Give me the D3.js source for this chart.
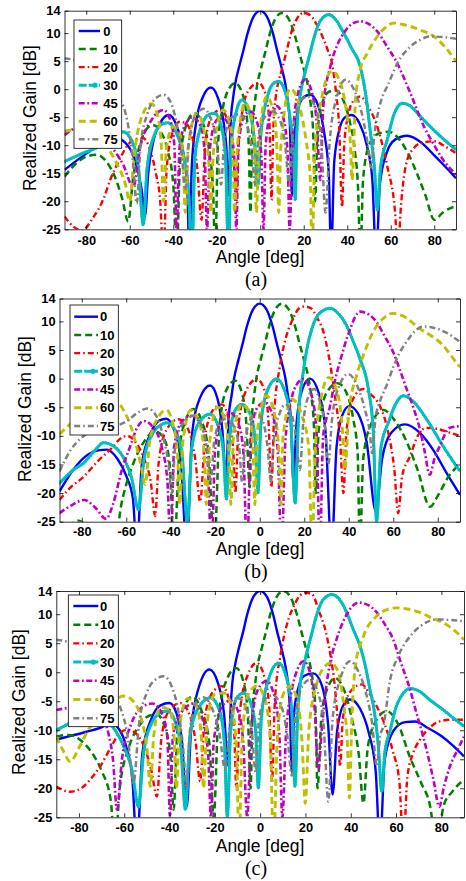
<!DOCTYPE html>
<html><head><meta charset="utf-8">
<script src="https://cdn.jsdelivr.net/npm/d3@7"></script>
<style>
html,body{margin:0;padding:0;background:#fff;}
svg{display:block;}
</style></head><body>
<svg id="chart" width="466" height="881"></svg>
<script>
// ---------- DATA ----------
const seriesNames = ["0","10","20","30","45","60","75"];
const xTicks = [-80,-60,-40,-20,0,20,40,60,80];
const yTicks = [14,10,5,0,-5,-10,-15,-20,-25];
const panelLabels = ["(a)","(b)","(c)"];
const xTitle = "Angle [deg]";
const yTitle = "Realized Gain [dB]";

// Panel (a): [angle deg, gain dB]
const a0 = [[-90,-14.4],[-80,-11.5],[-72,-9.5],[-66,-8.8],[-61,-10],[-57,-13.5],[-54.5,-18],[-53,-22.7],[-51.5,-15],[-49,-9],[-46,-6],[-42,-4.6],[-38.5,-6.5],[-35.5,-11],[-33.5,-18],[-32.6,-30],[-31.5,-14],[-29.5,-6],[-26.5,-1.5],[-22.7,0.3],[-19.5,-1.5],[-17,-5.5],[-15.5,-11],[-14.6,-19],[-13.6,-6],[-12.6,-1.9],[-11.5,1],[-9.7,4],[-7.7,7],[-5.8,10],[-3,13],[0,14],[3,13],[5.8,10],[7.7,7],[9.7,4],[11.5,1],[12.6,-1.9],[13.6,-6],[14.6,-19],[15.6,-9],[17.5,-3.5],[20,-1.4],[23,-1],[26.5,-2.8],[29.5,-8],[31.5,-15],[32.6,-30],[34,-13],[36.5,-7],[39,-5],[42,-4.6],[45.5,-6],[49,-10],[51.5,-16],[53.3,-30],[55,-17],[58,-11.5],[62,-9],[67.6,-8.3],[74,-9.5],[80,-11.8],[85,-13.8],[90,-15.9]];
const a10 = [[-90,-15.6],[-84,-13],[-79,-11.9],[-75,-11.7],[-71,-12.8],[-67,-15.5],[-63.5,-19.5],[-60.7,-23.6],[-58.5,-16],[-55,-9.5],[-52,-7],[-49.5,-6.4],[-46,-7.5],[-42.5,-11],[-40,-17],[-38.4,-30],[-37,-14],[-34.5,-7],[-30.5,-4.3],[-26.5,-6],[-23.5,-11],[-21.7,-18],[-20.7,-30],[-19.5,-10],[-17,-3],[-14.5,0],[-11.5,1.1],[-8.5,-0.5],[-6.5,-4],[-5.3,-10],[-4.5,-22],[-3.7,-7.4],[-2.5,-2.4],[-1.5,0.6],[0.3,3.6],[2.3,6.6],[4.2,9.6],[7,12.6],[10,13.6],[13,12.6],[15.9,9.6],[17.9,6.6],[20,3.6],[21.9,0.6],[23.1,-2.4],[24.3,-7.4],[25.2,-20],[26.3,-8],[28.5,-2.5],[31.5,-0.5],[34.6,-0.2],[38,-1.8],[41,-5.5],[43.5,-11],[45,-18],[46,-30],[47.3,-16],[50,-10],[54,-8],[59,-7.6],[64,-9],[68,-11.5],[72,-15],[76,-19],[80,-23.3],[84,-22],[87,-21.3],[90,-21]];
const a20 = [[-90,-22.7],[-86,-24.5],[-82,-25.2],[-77,-23],[-72,-19.5],[-69,-16.2],[-65,-12.8],[-61,-10],[-58,-9],[-53.8,-8.75],[-50.5,-11],[-48,-15],[-46,-20],[-44.5,-30],[-43,-14],[-40.5,-8],[-37,-5.8],[-34,-6.2],[-31,-9],[-29,-14],[-27,-23.3],[-25.3,-10],[-22.5,-5],[-18.4,-3.7],[-15,-5.5],[-13,-10],[-11.8,-15],[-11,-20],[-10,-10],[-8,-3.5],[-5,0],[-0.8,1.1],[2.5,-1],[4.2,-6],[5.2,-19.8],[6,-7],[7.1,-1.5],[8.5,1.5],[10,3.6],[12,6.6],[13.9,9.6],[16.9,12.6],[20,13.6],[23,13.2],[26,11.5],[28.5,9.5],[31,7],[33,4.6],[34.8,-0.5],[36.3,-7],[37.6,-21],[38.6,-10],[40.5,-4.5],[43,-2],[46,-1.3],[49.5,-3],[53.8,-6.7],[58.4,-13.8],[62,-22],[63.3,-30],[64.5,-22],[67.6,-12.6],[70.5,-10.6],[73.7,-9.6],[79.9,-9.3],[85,-10.2],[90,-11.4]];
const a30 = [[-90,-12.9],[-82,-11.5],[-74,-10.2],[-68,-8.5],[-63,-7.6],[-59,-9.3],[-56,-14],[-53.8,-24.2],[-52,-14],[-48.5,-8],[-45,-6.2],[-42.5,-6],[-39,-7.5],[-35,-12.5],[-33,-18],[-31.5,-30],[-30,-12],[-27,-6.5],[-23.5,-4.5],[-21,-4.3],[-18,-6.5],[-16,-12],[-14.6,-30],[-13.4,-10],[-11,-4],[-8.4,-1.9],[-5.5,-3.5],[-3,-8],[-1,-17],[0.3,-8],[3,-1.8],[5.5,0.8],[8.4,1.4],[11.5,-0.5],[13.8,-5.5],[15.2,-11],[16.1,-19.8],[16.8,-8],[17.8,-2.7],[19,0.3],[20.8,3.3],[22.8,6.3],[24.8,9.3],[27.8,12.3],[31.5,13.3],[34.5,12.5],[38.4,10],[42,7.3],[46,4],[48.5,-1],[50.7,-7.9],[52.5,-14],[53.8,-21.5],[55.3,-14],[58.4,-9],[61.5,-4.5],[65.3,-2.5],[69,-3],[73.7,-4.9],[79,-7],[84.5,-9],[90,-10.8]];
const a45 = [[-90,-8.2],[-85,-7],[-80,-6.8],[-74,-8],[-68,-10.5],[-63,-13.5],[-58.4,-17.4],[-55,-10],[-50,-5.5],[-44.5,-3.7],[-41,-6],[-39.5,-10],[-38.5,-25],[-37,-10],[-34,-6],[-31,-5],[-27,-7],[-25.5,-12],[-24.5,-25],[-23,-10],[-20,-5.5],[-17.5,-5],[-14,-7],[-12,-12],[-11,-25],[-10,-10],[-7,-4.5],[-4.5,-4],[-1,-6.5],[0.5,-12],[1.5,-25],[2.5,-10],[5,-4],[7.5,-3],[10.5,-5],[12.5,-11],[13.5,-25],[15,-8],[17.5,-0.5],[20.7,1.7],[24,-1],[26,-6],[27.6,-16.2],[29,-3],[32.2,4],[35,7.5],[38.4,10],[42,11.6],[46,12.1],[50,11.6],[53.8,10.3],[58,7.8],[63,4.6],[69,-0.7],[75.3,-6.7],[80,-10],[83,-12],[86.5,-13.8],[90,-15.3]];
const a60 = [[-90,-7.5],[-84,-7.2],[-79,-7.3],[-73,-9],[-67,-12.5],[-62,-17],[-60,-20],[-58,-12],[-55,-5.5],[-50,-2.6],[-47,-5],[-45.5,-10],[-44.5,-20],[-43,-10],[-40,-6.7],[-37,-8],[-35.5,-12],[-34.5,-22],[-33,-10],[-29.2,-4.3],[-25.5,-8],[-23.5,-14],[-22.8,-22],[-21.5,-11],[-17,-3.7],[-13.5,-7],[-12.5,-12],[-11.8,-22],[-10.5,-10],[-7,-2.5],[-3.5,-6],[-2.5,-12],[-1.8,-22],[-0.5,-9],[3,-1.3],[6.5,-5],[7.8,-12],[8.5,-22],[9.5,-10],[13.8,0.1],[18,-3],[21,-9],[23,-16],[23.8,-30],[25,-12],[28,-2],[33,3.2],[37,1],[40,-5],[41.5,-10],[42.2,-16.2],[43.8,-1.9],[46,3.5],[49.2,6.4],[53.8,9.4],[57.5,11],[61.5,11.8],[66,11.5],[69,11.2],[74,10.5],[79.9,9.4],[85,7.5],[90,5]];
const a75 = [[-90,5.5],[-84,5],[-78,3.5],[-72,1.2],[-67,-1],[-63,-3],[-60.5,-7],[-58.5,-13],[-56.8,-20.4],[-55,-10],[-52,-4.5],[-48.5,-1.8],[-44.5,-1],[-41,-2.5],[-38,-7],[-36,-12],[-34.5,-18],[-33,-10],[-29.5,-4.5],[-26,-3.5],[-22.5,-5.5],[-20,-9.5],[-18,-17],[-16.5,-9],[-13,-5],[-9.8,-4.5],[-6.5,-6],[-4,-10.5],[-2.3,-17],[-1,-9],[2,-5],[5.7,-4],[9,-5.5],[11.5,-10],[13.3,-17],[14.8,-8],[18,-2.5],[21.5,-1.3],[25,-3],[28,-9],[30,-22],[32,-9],[35.5,-1],[39.2,1.7],[43,0],[46.5,-4],[49.5,-10],[51,-14],[52.5,-8],[53.8,-4.9],[56,-1.5],[58.4,0.5],[63,4.6],[69,7.6],[73.5,8.8],[78.3,9.4],[84,9.3],[90,9.0]];

// Panel (b)
const b0 = [[-90,-19.7],[-84,-16],[-78,-13.5],[-72,-12.5],[-68.7,-12.4],[-64,-14],[-60,-17],[-57,-21],[-55.2,-30],[-53,-15],[-49,-9.5],[-45,-7.3],[-42,-7],[-38.5,-9],[-35.5,-14],[-32.8,-30],[-30.5,-10],[-27,-3.5],[-22.3,-1.2],[-19,-3.5],[-16.8,-9],[-15.1,-17.5],[-14,-7],[-12.6,-2.8],[-11.5,0.1],[-9.7,3.1],[-7.7,6.1],[-5.8,9.1],[-3,12.1],[0,13.1],[3,12.1],[5.8,9.1],[7.7,6.1],[9.7,3.1],[11.5,0.1],[12.6,-2.8],[14,-7],[15.1,-18],[16.5,-8],[19,-2],[22.6,0],[26.5,-2.5],[29.5,-9],[32.3,-30],[34.5,-12],[37,-6.5],[40.2,-4.8],[44,-6],[48,-11],[52.2,-23.2],[55,-14],[59,-9.5],[65.2,-8],[72,-9.5],[78,-12.5],[84,-16.5],[90,-20.3]];
const b10 = [[-90,-27],[-85,-25.5],[-82,-24.8],[-77,-26],[-72,-29],[-68,-32],[-65.7,-35],[-63,-24],[-60,-18.5],[-56.7,-14.7],[-52,-11],[-47,-9.2],[-43,-10.5],[-40.5,-15],[-38.5,-30],[-36,-12],[-33,-7],[-29.8,-5.3],[-26,-7.5],[-23,-13],[-20.5,-30],[-18,-8],[-15,-2],[-11.1,-0.35],[-8,-2.5],[-6,-8],[-4.5,-19],[-3.7,-7.9],[-2.5,-2.9],[-1.5,0.1],[0.3,3.1],[2.3,6.1],[4.2,9.1],[7,12.1],[9.9,13.1],[13,12.1],[15.9,9.1],[17.9,6.1],[20,3.1],[21.9,0.1],[23.1,-2.9],[24.3,-7.9],[25.2,-20],[26.5,-9],[30,-2.5],[35,-0.8],[39,-2.5],[42,-7],[44,-13],[45,-30],[46.5,-14],[50,-8],[55.6,-5.5],[61,-7.5],[66,-11],[71,-16],[76.5,-22.4],[80,-20.5],[85,-17],[90,-15]];
const b20 = [[-90,-21.2],[-85,-19],[-79,-17.1],[-73,-14.5],[-67.2,-12.4],[-62,-10.3],[-59.7,-10],[-56,-11],[-52,-14],[-49,-18],[-47,-24],[-45.5,-15],[-42,-9],[-36.5,-7.1],[-32,-9],[-29,-14],[-26.8,-21.5],[-24.5,-10],[-21,-5.5],[-17,-4.5],[-14,-7],[-12,-12],[-11,-20],[-9.5,-8],[-6,-2],[-1.3,-0.06],[2.5,-2.5],[4,-8],[5.2,-19],[6.5,-6],[9,2],[12,7.5],[15,10.5],[17.5,12.2],[20.3,12.6],[23,12.3],[26,10.5],[28.6,8.2],[31,4],[34,-3.6],[36,-10],[37.6,-20],[39,-9],[42,-3.5],[46.5,-1.8],[50,-2.8],[54,-4.8],[57.5,-9],[60.5,-16],[62.2,-23.5],[64,-17],[67.5,-13.6],[71,-10],[75,-8.6],[80,-8.8],[85,-9.4],[90,-10]];
const b30 = [[-90,-18.3],[-84,-16],[-79,-14.7],[-74,-12.5],[-70.2,-11.2],[-65,-12],[-61,-14],[-57.5,-17.5],[-54.5,-22.9],[-52,-14],[-48,-9.5],[-44,-8],[-41.7,-7.7],[-38,-9],[-35,-13],[-32.5,-25],[-30.5,-12],[-27,-7.5],[-22.3,-6.2],[-18.5,-8.5],[-16.3,-13],[-15,-21],[-13.5,-10],[-11,-5.5],[-8.1,-4.5],[-4.5,-6],[-2,-11],[-0.8,-20],[0.5,-8],[3.5,-2],[7.6,-0.06],[11.5,-2.5],[14,-8],[15.9,-21.8],[17.5,-6],[19.5,1],[21.1,5],[23.5,8.8],[25.6,10.8],[28.5,11.9],[31.6,12.3],[35,11.5],[39,9.3],[42,6.5],[45,3.5],[48.8,-1.8],[51,-9],[52.5,-25],[54.5,-12],[57.8,-7.7],[61,-4.5],[64.5,-3],[69,-4],[75,-7.1],[82.4,-11.8],[90,-16.2]];
const b45 = [[-90,-23.5],[-84,-22],[-79,-21.2],[-74,-22.5],[-69,-24.5],[-66,-22],[-62,-16],[-58.2,-11.8],[-55,-8.5],[-52.2,-7.4],[-48,-8.5],[-44,-12],[-41.5,-18],[-40,-30],[-38.5,-12],[-35,-7.5],[-30.5,-6.5],[-26,-8.5],[-23.5,-14],[-21.7,-30],[-20,-12],[-17,-7],[-13.5,-5.9],[-10,-7.5],[-7.5,-12],[-5.7,-30],[-4,-10],[-1,-5],[2,-4.2],[5.5,-6],[8,-12],[9.8,-30],[11.5,-11],[14,-4],[17,-0.8],[19.6,-0.06],[23,-2.5],[25.5,-9],[27,-30],[28.5,-10],[31.6,-4.8],[34,0],[36,2.9],[40,8],[45,11.7],[49,11.2],[52.5,9.9],[56,7.5],[60,4.6],[63,1.5],[66,-1.8],[69,-5],[72,-8.9],[74,-12.5],[76.4,-16.8],[78.5,-14],[80.9,-11.8],[85.4,-8.6],[90,-8.3]];
const b60 = [[-90,-9.7],[-84,-7.5],[-78,-5.3],[-72,-3.8],[-67.2,-3.3],[-62,-5],[-57,-9.5],[-53.5,-15],[-51.5,-18.5],[-49.5,-11],[-46,-7],[-42,-5.5],[-39,-8],[-37,-13],[-36,-22],[-34.5,-11],[-31,-5.5],[-27,-8],[-25,-13],[-24,-22],[-22.5,-11],[-19,-5],[-15.5,-7.5],[-13.8,-13],[-13,-22],[-11.8,-10],[-8,-4.5],[-4.5,-6],[-3,-13],[-2.2,-22],[-1,-9],[3,-3],[6.5,-6],[8.5,-12],[9.5,-22],[10.5,-10],[14.5,-3.6],[19,-6.5],[22,-12],[23.5,-30],[25,-12],[28,-2.5],[31,0.2],[34.5,-2],[37,-8],[38.3,-15.9],[40,-6],[43.5,0.5],[46.5,4],[51,8.2],[55.5,10.5],[59.7,11.4],[65,10.8],[72,8.7],[77,7.5],[82.4,5.8],[86,4],[90,2]];
const b75 = [[-90,-16.2],[-85,-12.5],[-80,-10.3],[-75,-9],[-70,-8.7],[-65,-8.3],[-60,-7.5],[-55,-6],[-50.5,-5.2],[-46.5,-6.5],[-43.5,-10],[-41,-15],[-39.5,-20],[-38,-12],[-34,-7.5],[-29.5,-6.5],[-25.5,-9],[-23.5,-13],[-22,-18],[-20.5,-11],[-17.5,-7.5],[-14.5,-7],[-11,-9],[-9,-13],[-8,-18],[-6.5,-11],[-4,-7],[-1.5,-6],[1.5,-7.5],[3.5,-12],[5,-18],[6.5,-10],[9,-6],[11.5,-4.5],[14.5,-6.5],[16.5,-11],[18,-16],[19.5,-8],[22,-3],[24.5,-1.8],[27,-4],[29.5,-9],[30.8,-15],[32.5,-7],[36,-1],[39.8,0.8],[43.5,-1],[47,-5],[49.5,-9.5],[50.5,-13],[52,-7],[54,-4],[57,-1.2],[60,2],[63,4.6],[67,7],[70,8.4],[73.5,9.1],[78,8.9],[84,8],[90,6.4]];

// Panel (c)
const c0 = [[-90,-11.6],[-84,-11],[-77,-10.3],[-70.6,-9.6],[-66,-8.8],[-62,-10],[-59,-13],[-56.5,-18],[-54.4,-30],[-52,-14],[-48,-8],[-44,-5.7],[-40,-5.3],[-37,-7],[-34.5,-12],[-32.4,-23.2],[-30.5,-10],[-27,-2.5],[-22.4,0.46],[-18.5,-2],[-16,-7],[-14,-16.2],[-13,-6],[-12.3,-1.9],[-11.2,1],[-9.5,4],[-7.5,7],[-5.7,10],[-3,13],[0,14],[3,13],[5.7,10],[7.5,7],[9.5,4],[11.2,1],[12.3,-1.9],[13.1,-6],[14,-17.4],[15,-7],[17,-2.5],[19.5,-0.6],[23.5,-0.2],[27,-2],[30,-9],[32,-21.1],[34,-10],[37,-5.5],[39.7,-4.7],[44,-6.2],[48,-10.5],[51,-17],[52.9,-30],[55,-15],[59,-10],[64,-8.6],[68.4,-8.5],[74,-9.6],[80,-11],[85,-12.6],[90,-14.5]];
const c10 = [[-90,-11.1],[-85,-10.8],[-80,-11.5],[-75,-13.5],[-70,-17],[-66,-22],[-64,-30],[-62,-20],[-58,-13],[-53,-9],[-49,-7.5],[-45.6,-7.3],[-42,-9.5],[-39.5,-15],[-38.2,-23.7],[-36.5,-10],[-33,-5.5],[-30,-4.2],[-26,-6.5],[-22.5,-12],[-20.5,-25],[-18.5,-8],[-15,-1.5],[-10.6,0.75],[-7.5,-1.5],[-5.5,-7],[-4.2,-20],[-3.4,-7],[-2.2,-2],[-1.2,1],[0.6,4],[2.6,7],[4.5,10],[7.3,13],[10.3,14],[13.3,13],[16.2,10],[18.2,7],[20.3,4],[22.2,1],[23.4,-2],[24.5,-7],[25.3,-20],[27,-8],[29.5,-3],[33.1,-1],[37,-3],[40.5,-8],[43.5,-14],[45.6,-22.6],[47.5,-13],[51,-8.5],[55.9,-6.7],[61,-9],[66,-14.5],[71,-19],[75,-23],[77.9,-30],[81,-23],[85,-20.5],[90,-18.5]];
const c20 = [[-90,-19.7],[-84,-20.6],[-79,-20],[-74,-18],[-70.6,-16.2],[-66,-13],[-62,-10.5],[-58.5,-9.9],[-55,-10.5],[-51,-13],[-48,-17],[-45.6,-21.4],[-43.5,-11],[-40,-6.5],[-35.3,-5.3],[-31,-7.5],[-28.5,-12],[-26.5,-18.8],[-24.5,-8],[-21,-3.5],[-16.9,-2.4],[-13.5,-5],[-11.5,-10],[-10.5,-20],[-9,-7],[-5.5,-0.5],[-1.5,1.6],[2,-1],[4,-6],[5.2,-19],[6.5,-5],[9,3],[12,8.5],[15,11.5],[17.5,13.2],[20.3,13.7],[23,13.4],[26,10.5],[28.7,7.4],[31,3],[33.1,-3],[34.3,-9],[35.3,-16.2],[36.5,-8],[39.5,-3.5],[44.9,-2.1],[48,-3.5],[51.5,-5.9],[55,-9],[58.5,-13.5],[61.5,-19],[63.2,-30],[65,-18],[67.5,-14],[70.6,-11.6],[75,-9.5],[79,-8.5],[83.8,-8.2],[90,-8.2]];
const c30 = [[-90,-10],[-84,-8.8],[-78,-7.8],[-73,-7.5],[-68,-8.3],[-64,-10],[-60,-13],[-56.5,-17],[-53.7,-23.2],[-51.5,-14],[-47.5,-8.5],[-43,-6.8],[-41,-6.7],[-37.5,-8.5],[-35,-13],[-33,-23.7],[-31,-11],[-27,-6],[-22,-4.4],[-18,-6.5],[-15.8,-12],[-14.5,-25],[-13,-10],[-10.5,-4.5],[-7.4,-3.6],[-4,-5.5],[-2,-10],[-0.8,-20],[0.5,-8],[3.5,-1.5],[8.1,1.6],[12,-1.5],[14,-7],[15.4,-19.7],[16.5,-8],[17.5,-2.6],[18.8,0.4],[20.6,3.4],[22.6,6.4],[24.6,9.4],[27.6,12.4],[31.6,13.4],[34.5,12.8],[38.2,10.3],[41,7.5],[44.1,4.5],[46.5,1],[48.5,-3],[50.5,-7],[52.2,-12.8],[53.7,-20.6],[55,-14],[57.4,-10],[60,-6],[62.5,-4],[66.2,-2.8],[70,-3.2],[75,-4.8],[80.9,-6.5],[85,-7.8],[90,-9.3]];
const c45 = [[-90,-6.5],[-84,-6.1],[-79,-5.9],[-74,-6.2],[-70,-7.5],[-67,-10.5],[-65,-15],[-63.2,-23.7],[-61,-15],[-57,-9],[-52,-6],[-47.5,-5.4],[-43.5,-7],[-41,-11],[-39.8,-25],[-38.5,-11],[-35,-7],[-29.4,-5.4],[-25.5,-8],[-23,-14],[-21.7,-25],[-20.5,-12],[-17,-6],[-13.2,-4.9],[-9.5,-7],[-7.5,-12],[-5.7,-25],[-4,-10],[-1,-3],[2.9,-1.5],[6.5,-4.5],[8.5,-11],[9.8,-25],[11.5,-10],[14,-3],[16.5,0.5],[19.1,1.9],[22,0],[24,-6],[25.7,-16.8],[27.2,-9.9],[29,-3],[30.9,1.6],[34,6],[38,9.8],[43.4,12],[47.5,11.6],[51.5,10.3],[55,8.3],[58.8,5.6],[62,1.8],[66.2,-3],[69,-7],[72,-11.1],[76.5,-18.5],[79.1,-23.2],[81,-20],[83.8,-16.2],[87,-13.5],[90,-11.1]];
const c60 = [[-90,-11.1],[-87,-13.5],[-83.8,-15.4],[-80,-13],[-76,-10],[-72,-8],[-66,-5.5],[-60.3,-4.1],[-56,-5],[-52.5,-8],[-50,-13],[-48.5,-19.7],[-47,-11],[-44,-6],[-40,-6.5],[-38,-11],[-37,-20],[-35.5,-9],[-32,-4.5],[-28,-6],[-26,-11],[-25,-20],[-23.5,-9],[-20,-3.8],[-16,-3.6],[-12.5,-6],[-10.5,-13],[-9.3,-30],[-8,-12],[-5.5,-4],[-1.5,-2.4],[2,-4.5],[4.5,-12],[5.9,-30],[7.5,-12],[10,-4],[13.2,-2.4],[16.5,-5],[18.5,-12],[19.9,-22.6],[21.5,-10],[25,-2],[28,0.8],[31.2,1.6],[34.5,0],[37,-6],[38.5,-12],[39.4,-21.7],[40.5,-8],[42,1],[45.6,6.2],[51.5,9.7],[56,10.8],[60.3,11.1],[65,10.9],[70.6,10.3],[75,9.5],[80.9,8.5],[85.5,7.3],[90,5.6]];
const c75 = [[-90,5.6],[-85,5.2],[-80,4],[-75,2],[-70,-0.8],[-65,-3.5],[-61.8,-6],[-58.5,-11],[-55.9,-19.1],[-53.5,-9],[-50,-3.5],[-46,-1.2],[-42.6,-0.7],[-39,-2.5],[-36,-7],[-34,-13],[-32.5,-20],[-31,-10],[-28,-5],[-25,-4.3],[-21.5,-6],[-18,-10.5],[-15.5,-16.7],[-13,-8],[-9.5,-4.5],[-6,-6.5],[-3.5,-11],[-2,-17.2],[-0.5,-8],[2.5,-4.5],[5.7,-4],[9.5,-6],[12,-11],[14,-17.8],[15.5,-8],[18.5,-2.5],[22,-1.3],[25.5,-3.5],[28,-9],[30.1,-22.3],[32,-8],[35.5,-1],[39.7,1.9],[43.5,0],[47,-4],[49.5,-9],[51.5,-16.2],[53,-11],[54.4,-9.3],[57.4,-1.3],[61,2.8],[66.2,6.2],[71,8],[77.9,9.1],[84,9],[90,8.8]];

const panelSeries = [
  [a0,a10,a20,a30,a45,a60,a75],
  [b0,b10,b20,b30,b45,b60,b75],
  [c0,c10,c20,c30,c45,c60,c75]
];

// ---------- STYLES / LAYOUT ----------
const styles = [
  {color:"#0000ff", dash:null, w:2.4},
  {color:"#008000", dash:"7,4", w:2.5},
  {color:"#ff0000", dash:"6,3,1.6,3", w:2.4},
  {color:"#00bfbf", dash:null, w:2.6, beads:true},
  {color:"#bf00bf", dash:"6,2.6,1.8,2.6", w:2.6},
  {color:"#bfbf00", dash:"7,4", w:2.9},
  {color:"#808080", dash:"6,3,1.6,3", w:2.5}
];
const layouts = [
  {x0:64.5, x1:456, yTop:10.7, yBot:229.3, tickY:240.5, xTitleY:257, yTitleX:30, yTitleY:118, labelY:279,
   leg:{x:74, y:20, w:47.7, h:128.3, row0:31, dy:18.05, l0:78.7, l1:100, tx:103.3}},
  {x0:59.5, x1:460, yTop:298.5, yBot:521.7, tickY:532, xTitleY:548.5, yTitleX:25, yTitleY:409, labelY:571},
  {x0:56.3, x1:464, yTop:591, yBot:817.3, tickY:827.5, xTitleY:845.5, yTitleX:18.5, yTitleY:702, labelY:868}
];
layouts[1].leg = {x:70, y:305, w:48.3, h:130, row0:316.7, dy:18.2, l0:74.2, l1:98, tx:100};
layouts[2].leg = {x:68.3, y:595, w:50, h:131.7, row0:606, dy:18.7, l0:73.3, l1:98.3, tx:100};

const svg = d3.select("#chart");
const defs = svg.append("defs");
const sansFont = "'Liberation Sans', Arial, Helvetica, sans-serif";
const serifFont = "'Liberation Serif', 'Times New Roman', serif";

layouts.forEach((L, pi) => {
  const x = d3.scaleLinear().domain([-90, 90]).range([L.x0, L.x1]);
  const y = d3.scaleLinear().domain([-25, 14]).range([L.yBot, L.yTop]);
  const g = svg.append("g");
  const clipId = "clip" + pi;
  defs.append("clipPath").attr("id", clipId).append("rect")
    .attr("x", L.x0).attr("y", L.yTop).attr("width", L.x1 - L.x0).attr("height", L.yBot - L.yTop);

  const line = d3.line().x(d => x(d[0])).y(d => y(d[1])).curve(d3.curveMonotoneX);
  const lg = g.append("g").attr("clip-path", `url(#${clipId})`);
  panelSeries[pi].forEach((data, si) => {
    const st = styles[si];
    const p = lg.append("path").attr("d", line(data)).attr("fill", "none")
      .attr("stroke", st.color).attr("stroke-width", st.w).attr("stroke-linejoin", "round");
    if (st.dash) p.attr("stroke-dasharray", st.dash);
    if (st.beads) {
      lg.append("path").attr("d", line(data)).attr("fill", "none")
        .attr("stroke", st.color).attr("stroke-width", 3.4)
        .attr("stroke-linecap", "round").attr("stroke-dasharray", "0,2.6");
    }
  });

  // axes (box with inward ticks)
  const fmt = d => String(d);
  const axB = g.append("g").attr("transform", `translate(0,${L.yBot})`)
    .call(d3.axisBottom(x).tickValues(xTicks).tickSizeInner(-4).tickSizeOuter(0).tickFormat(fmt));
  axB.selectAll("text").attr("y", L.tickY - L.yBot).attr("dy", "0.35em");
  const axT = g.append("g").attr("transform", `translate(0,${L.yTop})`)
    .call(d3.axisTop(x).tickValues(xTicks).tickSizeInner(-4).tickSizeOuter(0).tickFormat(""));
  const axL = g.append("g").attr("transform", `translate(${L.x0},0)`)
    .call(d3.axisLeft(y).tickValues(yTicks).tickSizeInner(-4).tickSizeOuter(0).tickPadding(4).tickFormat(fmt));
  const axR = g.append("g").attr("transform", `translate(${L.x1},0)`)
    .call(d3.axisRight(y).tickValues(yTicks).tickSizeInner(-4).tickSizeOuter(0).tickFormat(""));
  [axB, axT, axL, axR].forEach(a => {
    a.selectAll("path.domain").attr("stroke", "#000").attr("stroke-width", 0.8);
    a.selectAll(".tick line").attr("stroke", "#000").attr("stroke-width", 0.8);
    a.selectAll("text").attr("fill", "#000").attr("font-family", sansFont)
      .attr("font-size", "12.8px").attr("font-weight", "bold");
  });

  // titles
  g.append("text").attr("x", 260).attr("y", L.xTitleY).attr("dy", "0.35em")
    .attr("text-anchor", "middle").attr("font-family", sansFont).attr("font-size", "17.5px")
    .text(xTitle);
  g.append("text").attr("transform", `translate(${L.yTitleX},${L.yTitleY}) rotate(-90)`)
    .attr("dy", "0.35em").attr("text-anchor", "middle").attr("font-family", sansFont)
    .attr("font-size", "17.5px").text(yTitle);
  g.append("text").attr("x", 256).attr("y", L.labelY).attr("dy", "0.35em")
    .attr("text-anchor", "middle").attr("font-family", serifFont).attr("font-size", "20px")
    .text(panelLabels[pi]);

  // legend
  const lgd = g.append("g");
  const Lg = L.leg;
  lgd.append("rect").attr("x", Lg.x).attr("y", Lg.y).attr("width", Lg.w).attr("height", Lg.h)
    .attr("fill", "#fff").attr("stroke", "#000").attr("stroke-width", 0.8);
  seriesNames.forEach((name, si) => {
    const st = styles[si];
    const yy = Lg.row0 + si * Lg.dy;
    const ln = lgd.append("line").attr("x1", Lg.l0).attr("x2", Lg.l1).attr("y1", yy).attr("y2", yy)
      .attr("stroke", st.color).attr("stroke-width", st.w);
    if (st.dash) ln.attr("stroke-dasharray", st.dash);
    if (st.beads) {
      ln.attr("stroke-dasharray", "8,2").attr("stroke-width", 3);
      lgd.append("circle").attr("cx", Lg.l1 - 5).attr("cy", yy).attr("r", 2.6).attr("fill", st.color);
    }
    lgd.append("text").attr("x", Lg.tx).attr("y", yy).attr("dy", "0.36em")
      .attr("font-family", sansFont).attr("font-size", "13px").attr("font-weight", "bold")
      .attr("fill", "#000").text(name);
  });
});
</script>
</body></html>
